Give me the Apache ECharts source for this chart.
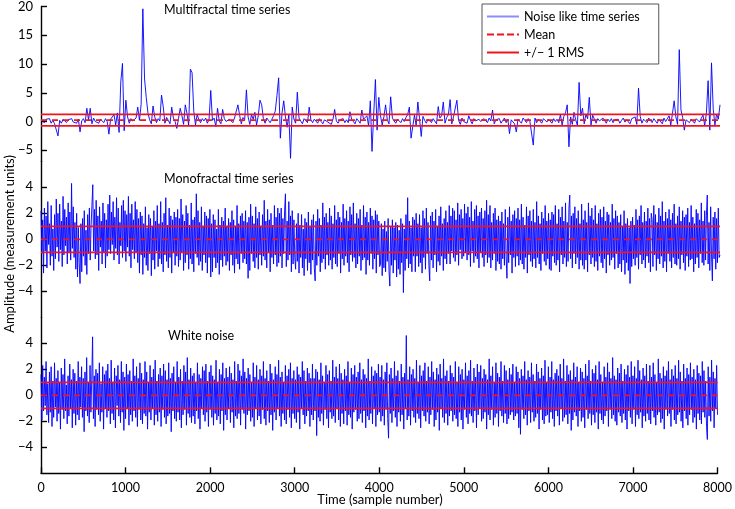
<!DOCTYPE html>
<html><head><meta charset="utf-8">
<script src="https://cdn.jsdelivr.net/npm/echarts@6/dist/echarts.min.js"></script>
<style>html,body{margin:0;padding:0;background:#fff}#c{width:735px;height:509px}</style>
</head><body><div id="c"></div>
<script>
// ---- data ----
const multifractalStep = 20;   // one value every 20 samples
const noiseStep = 10;          // one value every 10 samples
const xTicks = [0,1000,2000,3000,4000,5000,6000,7000,8000];
const panelTitles = ['Multifractal time series','Monofractal time series','White noise'];
const legendNames = ['Noise like time series','Mean','+/\u2212 1 RMS'];
const topTicks = [-5,0,5,10,15,20];
const lowerTicks = [-4,-2,0,2,4];
const meanLevels = [0.25, 0, 0];
const rmsLevels = [1.0, 1.0, 1.0];

const multifractal = [
0.3,0.6,-0.2,0.4,0.1,0.5,-0.3,0.2,-0.4,-0.1,-2.5,0.2,-0.3,0.4,0.1,-0.2,0.3,0.0,0.5,-0.1,
0.2,-0.3,0.4,-1.8,0.1,0.5,-0.2,2.3,0.3,2.3,-0.4,0.6,0.0,0.3,-0.3,0.4,0.1,-0.2,0.5,0.0,
-2.2,0.4,0.1,1.2,-0.6,1.5,-1.9,6.9,10.1,-1.6,3.7,0.8,-0.3,0.5,0.1,-0.2,0.6,2.5,0.2,3.0,
19.6,7.4,4.2,1.5,0.3,-0.4,2.7,0.8,-0.2,0.5,0.1,4.6,2.6,-0.3,0.7,0.2,-0.4,2.5,0.6,0.0,
-1.2,0.5,2.3,1.0,-0.5,2.9,1.4,-0.7,9.1,8.5,1.8,-0.6,1.2,0.3,-0.2,0.5,0.1,0.6,-0.3,0.4,
5.4,0.2,0.6,-0.9,2.3,0.1,-0.4,2.1,0.5,0.0,-0.3,0.4,0.2,-0.2,0.6,0.3,2.9,1.1,-0.4,0.7,
0.3,5.5,0.8,-0.5,1.2,0.4,1.6,-0.6,1.0,3.7,2.9,0.5,-0.3,0.6,0.2,-0.2,0.4,1.0,1.8,4.5,
7.6,-2.9,1.5,3.6,0.8,-1.0,1.2,-6.4,2.5,0.4,-0.3,5.1,0.6,0.1,-0.4,0.5,0.2,-0.2,2.5,0.3,
-0.2,0.4,0.1,-0.3,0.5,0.0,-0.4,0.3,0.6,-0.1,0.2,-0.5,0.4,2.1,0.1,-0.3,0.3,0.0,0.5,-0.2,
0.3,-0.2,1.7,0.4,0.0,-0.4,0.5,0.2,-0.3,2.0,0.4,0.1,1.0,-0.8,3.6,-5.2,1.3,7.3,-1.5,4.2,
1.0,-0.6,0.8,2.9,0.3,-0.4,4.3,0.6,0.1,-0.3,0.4,0.2,-0.2,0.5,0.0,0.7,1.2,2.5,-2.9,-3.1,
1.1,-0.7,3.4,0.5,-2.6,0.9,0.2,-0.3,0.4,0.1,-0.2,0.5,0.3,-0.4,2.6,0.6,1.0,3.4,-0.3,0.7,
1.2,3.8,-0.4,0.8,1.1,3.7,0.2,-0.5,0.6,0.0,0.3,-0.3,1.0,0.2,-0.4,0.5,0.1,-0.2,0.4,0.0,
-0.3,0.5,0.2,-0.2,0.6,0.1,2.0,-0.4,0.3,0.0,0.5,-0.3,0.2,0.6,-0.2,0.4,-2.1,0.3,0.1,-0.4,
-1.8,0.4,0.1,-0.3,0.6,0.2,-0.2,0.5,0.0,0.3,-4.1,0.6,-0.2,0.4,0.1,-0.3,0.5,0.2,-0.1,0.4,
0.2,-0.3,0.5,0.0,0.4,-0.2,1.2,-0.6,0.9,1.5,2.9,-4.4,0.8,-0.5,1.6,0.3,-0.7,6.8,1.0,2.3,
-0.4,1.3,0.5,4.2,-0.6,1.1,0.4,-0.3,0.5,0.1,-0.2,0.6,0.2,-0.3,0.4,0.0,0.5,-0.2,0.3,0.1,
0.4,-0.3,0.2,0.6,-0.1,0.3,0.0,-0.4,0.5,0.2,0.8,-0.5,5.8,0.9,-0.3,0.4,0.1,-0.2,0.6,0.3,
-0.2,0.5,0.1,-0.3,0.4,0.2,-0.4,0.6,0.0,0.3,1.0,-0.6,1.4,3.6,0.8,-0.5,12.5,2.0,0.7,-1.5,
0.3,0.6,-0.2,0.4,0.1,-0.3,0.5,0.2,-0.1,0.6,1.1,-0.7,1.5,7.1,-1.5,10.2,2.2,-0.6,1.3,0.4,
2.9];

const monofractal = [
2.2,-1.1,1.5,-2.6,2.4,-0.9,1.8,-2.2,2.9,-0.4,1.2,-2.0,2.6,-1.3,0.8,-2.4,1.9,-1.5,3.1,-0.6,
2.0,-1.7,2.7,-0.8,1.4,-2.1,3.3,-1.2,2.3,-0.5,1.7,-1.9,2.8,-1.0,2.1,-1.6,4.3,-0.7,2.5,-1.4,
1.3,-2.3,2.0,-2.9,0.9,-1.8,-3.4,1.2,-2.5,1.6,-1.3,2.2,-2.0,0.7,-2.7,1.9,-1.1,2.4,-1.6,1.0,
2.6,4.2,-0.9,2.3,-1.5,3.0,-1.2,1.8,-2.4,2.5,-0.6,1.4,-1.9,2.8,-1.0,2.0,-2.2,1.5,-1.3,2.7,
-0.8,3.4,-1.1,2.1,-0.4,2.9,-1.6,1.7,-0.7,3.2,-1.2,2.4,-1.9,1.3,-0.5,2.6,-1.4,3.0,-0.9,2.2,
-1.7,1.9,-0.6,3.3,-1.3,2.0,-2.2,2.7,-0.8,1.5,-1.5,2.9,-1.0,2.3,-1.8,1.6,-2.6,2.1,-1.2,1.8,
-2.7,1.2,-1.4,2.5,-2.0,0.9,-2.4,1.9,-1.1,1.6,-2.8,1.0,-1.6,2.2,-2.3,1.4,-0.9,2.6,-2.1,1.2,
-1.5,2.9,-1.9,1.3,-2.5,2.0,-1.2,3.2,-1.7,1.1,-2.2,2.4,-1.4,1.8,-2.6,1.5,-1.0,2.1,-2.0,1.7,
-1.3,2.3,-2.1,1.6,-1.6,3.1,-1.0,1.9,-2.4,1.4,-1.8,2.6,-1.2,2.0,-2.3,1.1,-1.5,2.8,-1.9,1.5,
-2.5,1.7,-1.1,3.5,-1.4,2.2,-2.0,1.3,-1.7,2.5,-2.4,1.0,-1.2,2.1,-1.8,1.8,-2.6,1.6,-1.4,2.3,
-2.9,1.2,-2.5,1.9,-1.4,1.5,-2.2,0.8,-1.8,2.3,-2.7,1.1,-1.6,1.7,-2.1,1.4,-1.3,2.4,-2.0,1.0,
-1.7,1.6,-2.4,1.3,-1.2,2.2,-2.0,1.5,-2.6,1.0,-1.5,2.6,-1.9,1.2,-2.3,1.8,-1.1,2.0,-1.8,1.4,
-1.5,2.2,-1.9,1.3,-3.0,1.7,-2.4,2.7,-1.1,1.8,-1.7,1.2,-2.2,2.5,-1.4,1.6,-2.3,2.1,-1.2,1.0,
-2.0,1.9,-1.3,3.0,-1.6,1.4,-2.2,2.3,-1.0,1.5,-2.5,2.0,-1.4,1.1,-1.9,2.6,-1.2,1.7,-2.1,2.4,
-1.8,2.0,-1.3,2.4,-2.2,1.6,-1.1,2.2,3.5,-2.1,1.4,-1.6,2.9,-1.2,1.8,-2.5,2.2,-1.9,1.5,-1.4,
-2.3,1.2,-1.7,2.0,-2.6,1.1,-1.4,1.9,-2.2,0.8,-2.8,1.6,-1.5,1.3,-2.4,2.1,-1.8,1.0,-2.7,1.5,
-1.6,1.9,-2.2,-3.2,1.4,-2.0,2.3,-1.3,1.6,-2.5,1.1,-1.8,2.8,-1.5,1.7,-2.3,2.0,-1.2,1.3,-2.0,
2.4,-1.6,1.8,-2.3,1.2,-1.4,2.6,-1.9,1.5,-2.1,2.1,-1.1,1.7,-2.6,1.3,-1.5,2.7,-2.0,1.6,-1.3,
2.2,-1.8,1.4,-2.5,2.5,-1.2,1.9,-1.7,2.8,-1.4,1.2,-2.2,2.0,-1.9,1.6,-1.3,2.3,-2.4,1.1,-1.6,
2.6,-1.4,1.7,-2.7,2.1,-1.6,1.3,-2.0,2.4,-1.1,1.8,-2.3,1.5,-1.5,2.2,-2.6,1.9,-1.2,1.4,-2.1,
-1.9,1.2,-2.8,0.8,-2.2,1.4,-2.5,0.6,-1.7,1.6,-2.4,-3.6,1.0,-2.0,1.5,-2.6,0.9,-1.6,1.3,-2.9,
1.1,-2.3,0.7,-2.7,1.6,-1.8,1.2,-4.1,0.8,-2.4,1.9,-1.5,3.2,-2.2,1.4,-1.9,0.9,-2.5,1.7,-1.3,
1.5,-2.5,2.0,-1.3,1.2,-2.1,1.9,-1.8,0.9,-2.6,2.2,-1.4,1.6,-2.3,2.4,-1.1,1.3,-2.0,-3.2,1.8,
-1.6,2.1,-2.2,1.4,-1.2,2.3,-2.5,1.0,-1.7,1.8,-2.0,2.5,-1.3,1.2,-2.4,1.6,-1.5,2.2,-1.9,1.3,
-1.1,2.6,-1.9,1.8,-0.9,2.4,-1.4,2.2,-1.7,1.5,-1.2,2.8,-2.0,1.9,-0.8,2.3,-1.5,1.6,-1.3,2.7,
-1.0,2.0,-1.6,2.5,-1.2,1.7,-2.1,2.9,-0.9,1.4,-1.8,2.3,-1.3,2.6,-1.5,1.8,-2.2,2.1,-1.0,2.4,
-1.4,1.6,-2.1,2.2,-1.2,3.0,-1.8,1.9,-1.4,2.6,-2.2,1.3,-1.6,2.0,-1.1,2.4,-2.4,1.5,-1.7,1.8,
-1.9,1.4,-2.3,2.1,-1.5,1.2,-2.0,2.3,-1.3,-3.0,1.7,-1.8,2.5,-1.2,1.4,-2.6,1.9,-1.4,2.2,-2.1,
1.6,-1.3,2.4,-2.0,1.5,-1.6,2.7,-1.9,1.7,-2.3,1.1,-1.4,2.5,-2.6,1.8,-1.2,2.2,-1.7,1.4,-2.1,
2.3,-1.5,1.3,-2.2,2.9,-1.4,1.8,-1.9,1.2,-2.4,2.1,-1.1,1.6,-1.7,2.6,-2.0,1.4,-1.5,2.0,-2.3,
1.5,-2.4,2.1,-1.3,1.9,-1.8,2.6,-2.0,1.2,-1.6,2.3,-2.5,1.7,-1.2,2.5,-1.9,1.4,-1.4,2.8,-2.1,
1.3,-1.7,2.4,3.4,-1.5,1.8,-2.2,2.0,-1.1,2.5,-1.9,1.6,-1.4,2.2,-2.3,1.2,-1.6,2.7,-2.0,1.5,
-2.3,2.2,-1.6,1.3,-2.5,2.8,-1.2,1.8,-1.9,2.4,-1.4,1.5,-2.1,2.6,-1.7,1.2,-2.4,2.0,-1.3,2.3,
-1.8,1.7,-2.2,2.5,-1.5,1.4,-2.6,2.1,-1.2,1.9,-2.0,1.3,-1.6,2.7,-1.4,1.6,-2.3,2.2,-1.1,1.8,
-2.2,1.3,-1.9,1.9,-2.5,1.0,-1.6,2.2,-2.7,1.2,-1.8,1.6,-2.4,0.9,-3.4,1.4,-2.1,1.7,-1.5,1.1,
-2.0,2.3,-1.4,1.5,-2.3,1.8,-1.2,2.6,-1.9,1.3,-1.6,2.1,-2.2,1.4,-1.3,2.4,-1.8,1.6,-2.5,2.0,
1.5,-2.1,2.6,-1.2,1.9,-2.4,1.3,-1.5,2.4,-1.9,1.8,-1.3,2.9,-2.2,1.4,-1.7,2.1,-2.5,1.6,-1.1,
2.3,-1.7,1.5,-2.2,2.0,-1.4,2.7,-1.9,1.2,-2.0,1.8,-1.5,2.5,-2.3,1.4,-1.2,2.2,-1.8,1.7,-2.4,
1.9,-1.3,2.4,-2.1,1.3,-1.6,2.6,-1.5,1.7,-2.5,1.2,-1.9,2.3,-1.4,2.0,-2.2,1.5,-1.1,2.8,-1.8,
1.4,-2.0,2.2,-1.6,1.8,3.4,-1.9,1.3,-2.4,2.5,-1.2,-3.2,1.7,-1.5,2.1,-2.3,1.6,-1.8,2.4,-1.4,
-1.2];

const whiteNoise = [
1.6,-1.9,2.3,-1.2,1.4,-0.8,2.6,-1.5,0.9,-2.1,1.8,-1.3,2.2,-2.4,1.1,-1.7,2.5,-0.9,1.3,-2.0,
1.9,-1.4,1.0,-2.6,2.1,-1.1,1.6,-1.8,2.8,-1.2,0.8,-2.2,1.5,-1.6,2.4,-1.0,1.2,-2.5,2.0,-1.4,
1.7,-2.3,1.1,-1.5,2.6,-1.9,1.4,-0.9,2.2,-1.7,1.3,-2.8,1.8,-1.2,2.9,-1.6,1.0,-2.1,2.3,-1.3,
1.2,4.5,-1.8,1.5,-2.4,2.0,-1.1,1.7,-1.5,2.5,-2.0,0.9,-1.3,2.2,-2.6,1.6,-1.0,1.9,-1.7,2.4,
-1.2,1.3,-2.2,2.7,-1.4,1.0,-1.9,2.1,-2.5,1.5,-0.8,2.3,-1.6,1.2,-2.1,2.6,-1.3,1.8,-2.7,1.4,
-1.8,2.4,-1.0,1.6,-2.3,1.9,-1.5,1.1,-2.0,2.8,-1.2,1.5,-1.7,2.2,-2.4,1.3,-1.1,2.5,-1.9,1.7,
-2.2,1.2,-1.4,2.6,-1.6,1.8,-2.6,1.0,-1.3,2.3,-1.9,1.4,-1.0,2.0,-2.3,2.7,-1.5,1.1,-2.0,1.6,
-1.3,2.1,-2.4,1.5,-1.1,2.4,-1.7,1.9,-2.2,1.2,-1.6,2.5,-1.4,1.3,-2.8,1.7,-1.2,2.2,-1.8,1.0,
-2.0,2.6,-1.3,1.4,-1.9,2.0,-2.5,1.1,-1.5,2.3,-1.1,1.8,-2.3,2.9,-1.4,1.2,-1.7,2.1,-2.1,1.5,
-1.6,1.7,-2.2,1.0,-1.2,2.5,-1.8,1.6,-2.6,1.3,-1.0,2.2,-1.5,1.9,-2.0,2.4,-1.3,1.1,-2.4,1.8,
-1.1,2.3,-1.7,1.5,-2.3,1.2,-1.4,2.7,-1.9,1.0,-1.6,2.0,-2.2,1.6,-1.2,2.5,-2.7,1.3,-1.5,2.1,
-1.9,1.4,-1.0,2.2,-2.1,1.7,-1.3,1.2,-2.5,2.6,-1.6,1.1,-1.8,2.4,-1.4,1.9,-2.3,1.5,-1.1,2.8,
-1.4,1.8,-2.6,1.3,-1.5,2.1,-1.2,1.6,-2.0,1.0,-1.7,2.5,-2.4,1.4,-1.0,2.3,-1.9,1.2,-1.6,2.0,
-2.2,1.5,-1.1,2.6,-1.8,1.3,-2.3,1.9,-1.2,1.1,-2.1,2.4,-1.5,1.7,-2.7,1.2,-1.3,2.2,-1.9,1.6,
-1.0,2.7,-1.6,1.4,-2.4,1.8,-1.4,1.0,-1.9,2.3,-2.2,1.5,-1.1,2.0,-1.7,2.5,-2.5,1.3,-1.4,1.9,
-1.8,1.2,-2.1,2.2,-1.3,1.6,-2.6,1.4,-1.0,2.6,-1.5,1.9,-2.2,1.1,-1.6,2.1,-1.2,1.7,-2.4,1.3,
-1.5,2.4,-1.9,1.3,-1.2,2.0,-3.1,1.8,-1.7,1.2,-2.0,2.5,-1.4,1.5,-2.3,1.0,-1.1,2.3,-1.8,1.6,
-2.5,1.9,-1.3,1.1,-1.8,2.7,-1.6,1.4,-2.1,2.2,-1.0,1.3,-1.9,2.4,-2.4,1.7,-1.4,1.2,-2.2,2.0,
-1.2,1.5,-2.3,2.6,-1.5,1.0,-1.7,2.1,-2.6,1.6,-1.3,2.3,-1.1,1.4,-2.0,1.8,-1.8,2.5,-1.4,1.2,
-2.1,2.0,-1.2,1.6,-2.5,1.3,-1.6,2.8,-1.9,1.1,-1.4,2.2,-2.2,1.5,-1.0,1.9,-2.4,1.7,-1.5,2.4,
-1.3,1.4,-2.0,2.3,-1.6,1.2,-2.3,1.8,-1.1,2.5,-1.8,-3.3,1.6,-1.4,2.1,-2.1,1.3,-1.2,2.6,-1.7,
1.5,-2.4,1.9,-1.3,1.1,-2.0,2.4,-1.5,1.4,-2.6,1.7,-1.0,4.6,-1.9,1.2,-1.6,2.2,-2.3,1.6,-1.2,
2.0,-1.7,1.3,-2.1,2.7,-1.4,1.0,-1.8,2.3,-2.5,1.5,-1.2,1.9,-1.6,2.5,-2.0,1.1,-1.3,2.2,-2.2,
1.4,-1.5,2.6,-1.1,1.8,-2.4,1.2,-1.9,2.1,-1.3,1.6,-2.7,2.4,-1.0,1.3,-1.7,2.8,-2.1,1.5,-1.4,
1.9,-2.3,1.1,-1.6,2.3,-1.2,1.7,-2.0,1.4,-1.5,2.6,-1.8,1.0,-2.4,2.2,-1.3,1.6,-1.9,2.0,-2.6,
1.2,-1.1,2.5,-1.7,1.5,-2.2,1.9,-1.4,2.7,-1.6,1.1,-2.1,2.1,-1.2,1.4,-2.5,2.4,-1.5,1.8,-1.0,
2.3,-2.0,1.3,-1.8,2.0,-1.3,1.6,-2.6,1.2,-1.5,2.8,-1.9,1.5,-1.1,2.2,-2.3,1.0,-1.7,2.5,-1.4,
1.7,-2.4,1.4,-1.2,2.6,-1.6,1.1,-2.1,2.3,-1.4,1.9,-2.2,1.2,-1.8,2.1,-1.5,1.6,-1.3,2.4,-1.9,
1.0,-1.6,2.2,-1.4,1.8,-2.5,1.3,-3.0,2.0,-1.1,1.5,-1.8,2.6,-1.5,1.2,-2.3,1.9,-1.2,1.4,-2.1,
2.5,-1.3,1.6,-2.0,1.1,-1.7,2.4,-1.4,1.8,-2.6,1.3,-1.1,2.1,-1.9,1.5,-2.2,2.7,-1.6,1.0,-1.5,
2.2,-2.1,1.4,-1.3,2.6,-1.8,1.2,-2.4,1.7,-1.2,2.0,-1.6,1.5,-2.3,2.4,-1.0,1.3,-2.0,2.8,-1.7,
1.1,-1.5,2.3,-2.2,1.6,-1.4,1.9,-2.7,1.2,-1.9,2.5,-1.3,1.4,-1.6,2.2,-2.4,1.0,-1.2,2.1,-2.0,
1.8,-1.7,1.3,-2.5,2.4,-1.1,1.5,-1.8,2.7,-1.4,1.1,-2.3,2.0,-1.5,1.7,-2.1,2.3,-1.3,1.2,-2.6,
2.6,-1.4,1.6,-1.9,1.0,-2.2,2.2,-1.6,1.4,-1.2,2.5,-2.4,1.8,-1.1,1.3,-1.8,2.9,-1.5,1.5,-2.0,
1.2,-2.3,2.1,-1.3,1.7,-1.6,2.4,-2.1,1.1,-1.4,2.0,-1.9,1.6,-2.6,2.3,-1.2,1.4,-1.7,2.6,-2.2,
1.5,-1.1,2.2,-2.4,1.3,-1.5,2.7,-1.8,1.9,-1.3,1.2,-2.5,2.1,-1.6,1.5,-2.0,2.4,-1.4,1.1,-1.9,
2.3,-2.2,1.4,-1.2,2.5,-1.7,1.6,-2.3,1.0,-1.5,2.8,-1.3,1.7,-2.1,1.3,-1.8,2.2,-2.6,1.5,-1.1,
1.9,-1.6,2.6,-1.4,1.2,-2.4,2.0,-1.1,1.5,-1.9,2.3,-2.2,1.3,-1.5,2.7,-1.3,1.8,-2.0,1.1,-2.5,
2.4,-1.2,1.3,-1.8,2.1,-2.3,1.6,-1.5,2.5,-1.1,1.4,-2.1,2.0,-1.7,1.2,-2.6,2.3,-1.4,1.7,-1.9,
1.5,-2.2,2.6,-1.3,1.9,-1.7,1.1,-2.4,-3.4,2.2,-1.6,1.4,-2.0,2.7,-1.2,1.8,-2.5,1.3,-1.0,2.3,
-1.5];

// ---- chart ----
const FONT = 'Lato';
const BLUE = '#0000ff';
const RED = '#f0141e';
const panels = [multifractal, monofractal, whiteNoise];
const steps = [multifractalStep, noiseStep, noiseStep];
const grids = [
  {left: 41, right: 15, top: 5.7, height: 155.6},
  {left: 41, right: 15, top: 161.3, height: 156},
  {left: 41, right: 15, top: 317.3, height: 156}
];
const yRanges = [[-6.92, 20], [-6, 6], [-6, 6]];
const yTickSets = [topTicks, lowerTicks, lowerTicks];
const xMin = xTicks[0], xMax = xTicks[xTicks.length - 1];
const AX = {color: '#000', width: 1.4};

const xAxes = grids.map((g, k) => ({
  type: 'value', gridIndex: k, min: xMin, max: xMax, interval: 1000,
  show: k === 2,
  axisLine: {show: true, onZero: false, lineStyle: AX},
  axisTick: {show: true, inside: true, length: 6, lineStyle: AX},
  axisLabel: {show: true, color: '#000', fontSize: 12.5, fontFamily: FONT, margin: 8, formatter: v => String(v)},
  splitLine: {show: false}
}));
const yAxes = grids.map((g, k) => ({
  type: 'value', gridIndex: k, min: yRanges[k][0], max: yRanges[k][1],
  axisLine: {show: true, onZero: false, lineStyle: AX},
  axisTick: {show: true, inside: true, length: 6, customValues: yTickSets[k], lineStyle: AX},
  axisLabel: {show: true, customValues: yTickSets[k], color: '#000', fontSize: 13, fontFamily: FONT, margin: 8,
    formatter: v => (v < 0 ? '\u2212' + Math.abs(v) : String(v))},
  splitLine: {show: false}
}));

const series = [];
panels.forEach((vals, k) => {
  series.push({
    name: legendNames[0], type: 'line', xAxisIndex: k, yAxisIndex: k, symbol: 'none',
    lineStyle: {color: BLUE, width: k === 0 ? 1.0 : 1.0, opacity: 0.9}, itemStyle: {color: BLUE},
    data: vals.map((v, i) => [i * steps[k], v]), z: 2
  });
});
panels.forEach((vals, k) => {
  const m = meanLevels[k], r = rmsLevels[k];
  series.push({
    name: legendNames[1], type: 'line', xAxisIndex: k, yAxisIndex: k, symbol: 'none',
    lineStyle: {color: RED, width: 1.8, type: [6, 5]}, itemStyle: {color: RED},
    data: [[xMin, m], [xMax, m]], z: 4
  });
  [m + r, m - r].forEach(lv => series.push({
    name: legendNames[2], type: 'line', xAxisIndex: k, yAxisIndex: k, symbol: 'none',
    lineStyle: {color: RED, width: 1.8}, itemStyle: {color: RED},
    data: [[xMin, lv], [xMax, lv]], z: 4
  }));
});

const titlePos = [[164, 3], [164, 172.5], [168, 329.5]];
const graphic = panelTitles.map((t, k) => ({
  type: 'text', left: titlePos[k][0], top: titlePos[k][1], z: 10,
  style: {text: t, fill: '#000', font: '12.5px ' + FONT}
}));
graphic.push({
  type: 'text', x: 380, y: 493, z: 10,
  style: {text: 'Time (sample number)', fill: '#000', font: '13px ' + FONT, align: 'center', verticalAlign: 'top'}
});
graphic.push({
  type: 'text', x: 3, y: 244, rotation: Math.PI / 2, z: 10,
  style: {text: 'Amplitude (measurement units)', fill: '#000', font: '13px ' + FONT, align: 'center', verticalAlign: 'top'}
});

const chart = echarts.init(document.getElementById('c'), null, {renderer: 'canvas'});
chart.setOption({
  animation: false,
  backgroundColor: '#fff',
  grid: grids,
  xAxis: xAxes,
  yAxis: yAxes,
  legend: {
    data: [
      {name: legendNames[0], icon: 'rect', itemStyle: {color: '#8c8cff'}},
      {name: legendNames[1], icon: 'path://M0,0h7v2h-7zM10,0h7v2h-7zM20,0h7v2h-7zM30,0h2v2h-2z', itemStyle: {color: RED}},
      {name: legendNames[2], icon: 'rect', itemStyle: {color: RED}}
    ],
    orient: 'vertical', left: 482, top: 4,
    itemWidth: 32, itemHeight: 2, itemGap: 5,
    padding: [6, 19, 5, 5], borderColor: '#555', borderWidth: 1, backgroundColor: '#fff',
    textStyle: {color: '#000', fontSize: 12.5, fontFamily: FONT},
    selectedMode: false
  },
  graphic: graphic,
  series: series
});
</script>
</body></html>
